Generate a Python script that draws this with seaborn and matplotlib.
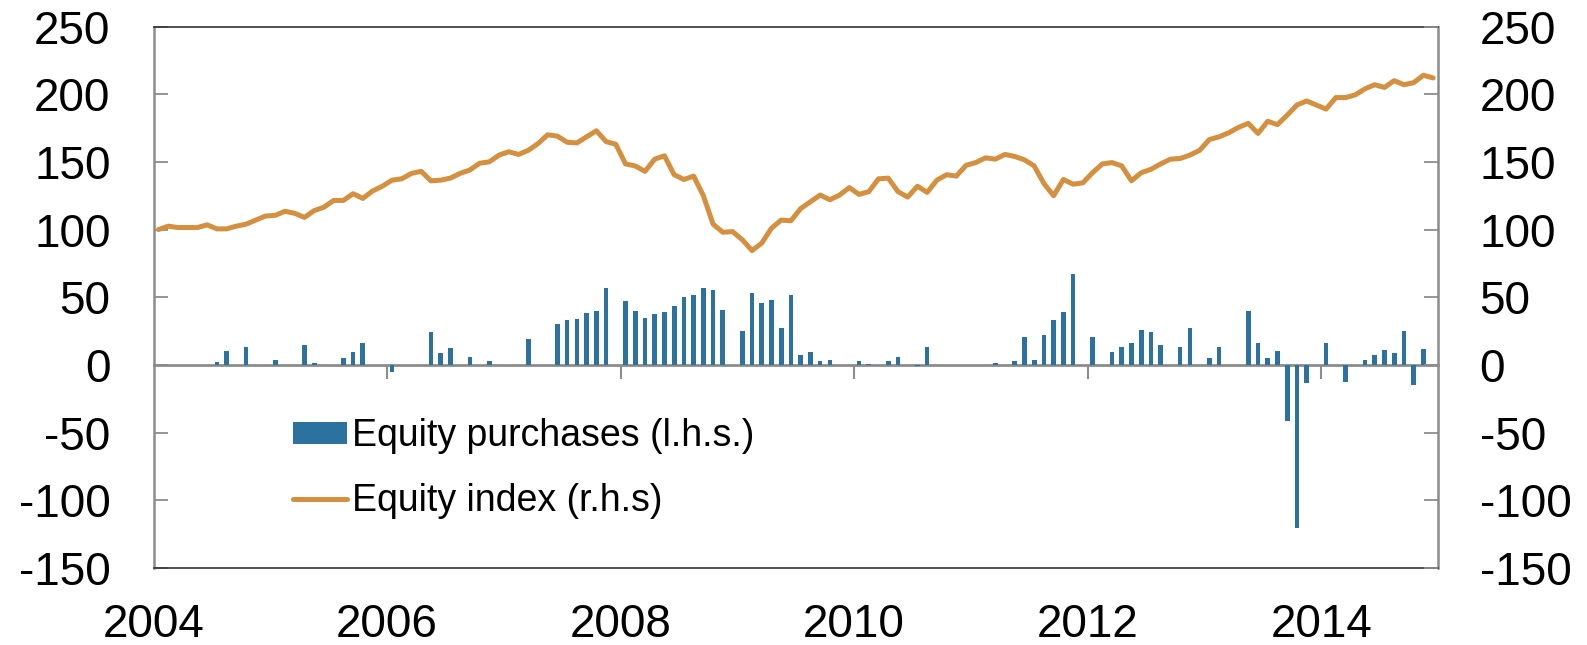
import numpy as np
import pandas as pd
import matplotlib
matplotlib.use("Agg")
import matplotlib.pyplot as plt
import seaborn as sns
from matplotlib.patches import Patch
from matplotlib.lines import Line2D

# Monthly data, Jan 2004 - Dec 2014
months = pd.date_range("2004-01-01", periods=132, freq="MS")

equity_purchases = [
    0, 0, 0, 0, 0, 0, 2, 10.5, 0, 13, 0, 0,                      # 2004
    3.5, 0, 0, 15, 1.5, 0, 0, 5, 9.5, 16, 0, 0,                  # 2005
    -5, 0, 0, 0, 24.5, 8.5, 12.5, 0, 6, 0, 3, 0,                 # 2006
    0, 0, 19, 0, 0, 30, 33, 34, 38, 40, 56.5, 0,                 # 2007
    47.5, 39.5, 35, 37.5, 39, 43.5, 50, 51.5, 56.5, 55.5, 40.5, 0,  # 2008
    25, 53, 46, 48, 27, 51.5, 7, 9.5, 3, 4, 0, 0,                # 2009
    3, 0.5, 0, 3, 5.5, 0, -0.5, 13.5, 0, 0, 0, 0,                # 2010
    0, 0, 1.5, 0, 3, 21, 4, 22, 33.5, 39, 67.5, 0,               # 2011
    20.5, 0, 9.5, 13, 16.5, 25.5, 24.5, 14.5, 0, 13.5, 27.5, 0,  # 2012
    5, 13.5, 0, 0, 39.5, 16, 5, 10, -41.5, -120.5, -13.5, 0,     # 2013
    16.5, 0, -12.5, 0, 4, 7, 11, 9, 25, -15, 11.5, 0,            # 2014
]

equity_index = [
    100, 102.5, 101.5, 101.5, 101.5, 103.5, 100.5, 100.5, 102.5, 104, 107, 110,
    110.5, 113.5, 112, 109, 114, 116.5, 121.5, 121.5, 126.5, 123, 128.5, 132,
    136.5, 137.5, 141.5, 143, 136, 136.5, 138, 141.5, 144, 149, 150, 155,
    157.5, 155.5, 158.5, 163.5, 170, 169, 164.5, 164, 168.5, 173, 165, 163,
    148.5, 147, 143, 152, 154.5, 140.5, 137, 139.5, 125, 104, 98, 98.5,
    92.5, 84.5, 90, 101, 107, 106.5, 115.5, 120.5, 125.5, 122, 125.5, 131,
    126, 128, 137.5, 138, 128, 124, 132, 127.5, 136.5, 140.5, 139.5, 147.5,
    149.5, 153, 152, 155.5, 154, 151.5, 147, 134, 125, 137, 133.5, 134.5,
    142, 148.5, 149.5, 147, 136, 142, 144.5, 148.5, 152, 152.5, 155, 158.5,
    166.5, 168.5, 171.5, 175.5, 178.5, 171, 180, 177.5, 184.5, 192, 195, 192,
    189, 197.5, 197.5, 199.5, 204, 207, 205, 210, 207, 208.5, 214, 212,
]

yticks = list(range(-150, 251, 50))
xticks = [2004, 2006, 2008, 2010, 2012, 2014]

# decimal year at mid-month
xpos = months.year + (months.month - 0.5) / 12
df = pd.DataFrame({"x": xpos, "purchases": equity_purchases, "index": equity_index})

bar_color = "#2C72A0"
line_color = "#D4903F"
spine_grey = "#8C8C8C"

sns.set_style("white")
plt.rcParams["font.family"] = ["Liberation Sans", "DejaVu Sans"]
plt.rcParams["axes.unicode_minus"] = False
plt.rcParams["text.color"] = "black"
plt.rcParams["xtick.labelcolor"] = "black"
plt.rcParams["ytick.labelcolor"] = "black"

fig = plt.figure(figsize=(15.87, 6.45), dpi=100)
ax = fig.add_axes([0.0968, 0.1194, 0.8093, 0.8395])

sns.barplot(data=df, x="x", y="purchases", native_scale=True, orient="x",
            width=0.48, color=bar_color, saturation=1, errorbar=None, ax=ax,
            linewidth=0, zorder=2)
sns.lineplot(data=df, x="x", y="index", color=line_color, linewidth=3.6,
             ax=ax, zorder=3)

ax.set_xlim(2004, 2015)
ax.set_ylim(-150, 250)
ax.set_yticks(yticks)
ax.set_xticks(xticks)
ax.set_xlabel("")
ax.set_ylabel("")
ax.tick_params(axis="x", length=0, pad=25, labelsize=33, labelcolor="black")
ax.tick_params(axis="y", direction="in", length=10, width=1.3, color=spine_grey,
               pad=31, labelsize=33, left=True, labelcolor="black")

for side in ["left", "right"]:
    ax.spines[side].set_color(spine_grey)
    ax.spines[side].set_linewidth(1.8)
for side in ["top", "bottom"]:
    ax.spines[side].set_color("#333333")
    ax.spines[side].set_linewidth(1.2)

# right-hand axis with the same scale
ax2 = ax.twinx()
ax2.set_ylim(-150, 250)
ax2.set_yticks(yticks)
ax2.tick_params(axis="y", direction="in", length=10, width=1.3, color=spine_grey,
                pad=30, labelsize=33, right=True, labelcolor="black")
for sp in ax2.spines.values():
    sp.set_visible(False)

# zero line carrying the year ticks
zero_frac = (0 - (-150)) / (250 - (-150))
sec = ax.secondary_xaxis(zero_frac)
sec.set_xticks(xticks[1:])
sec.tick_params(axis="x", direction="out", length=10, width=1.5, color=spine_grey,
                labelbottom=False)
sec.spines["bottom"].set_color(spine_grey)
sec.spines["bottom"].set_linewidth(2)

handles = [
    Patch(facecolor=bar_color, edgecolor="none", label="Equity purchases (l.h.s.)"),
    Line2D([], [], color=line_color, linewidth=3.6, label="Equity index (r.h.s)"),
]
ax.legend(handles=handles, loc="upper left", bbox_to_anchor=(0.1085, 0.277),
          frameon=False, fontsize=27, borderpad=0, borderaxespad=0,
          handlelength=1.44, handleheight=0.53, handletextpad=0.13,
          labelspacing=0.78)

fig.savefig("out.png", dpi=100)
